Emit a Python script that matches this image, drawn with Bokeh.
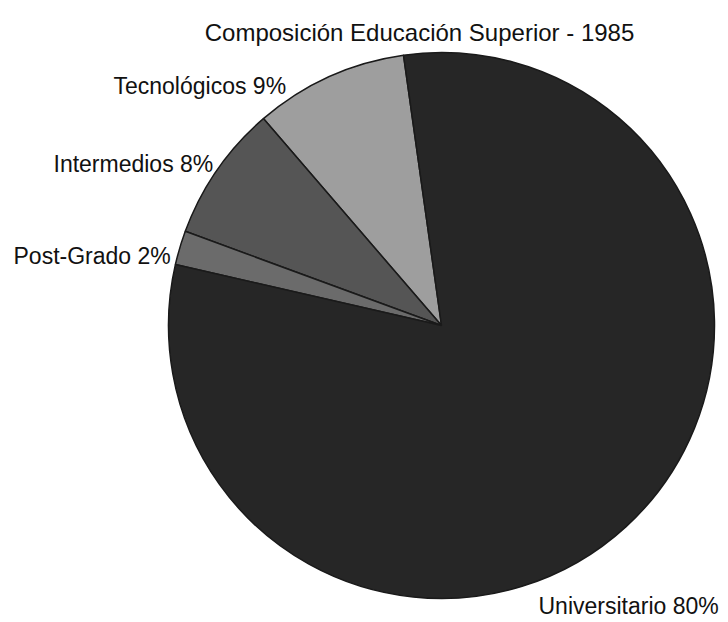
import math
from bokeh.plotting import figure
from bokeh.models import Range1d, Label, ColumnDataSource
from bokeh.embed import file_html
from bokeh.resources import INLINE

# ---- data ----
categories = ["Tecnológicos", "Intermedios", "Post-Grado", "Universitario"]
values = [9, 8, 2, 80]
colors = ["#9e9e9e", "#555555", "#6b6b6b", "#262626"]
title_text = "Composición Educación Superior - 1985"

# ---- layout ----
W, H = 728, 622
start_deg = 98.0          # first slice boundary (math angle, CCW)
cx, cy, rad = 441, 297, 273
label_pos = [(113, 537), (53, 459), (13, 367), (538, 17)]
FONT = "Liberation Sans"

total = float(sum(values))
starts, ends = [], []
a = math.radians(start_deg)
for v in values:
    starts.append(a)
    a += v / total * 2 * math.pi
    ends.append(a)

src = ColumnDataSource(dict(cat=categories, val=values, color=colors,
                            start=starts, end=ends))

p = figure(width=W, height=H, x_range=Range1d(0, W), y_range=Range1d(0, H),
           min_border=0, toolbar_location=None, output_backend="svg",
           background_fill_color="#ffffff", border_fill_color="#ffffff",
           outline_line_color=None)
p.axis.visible = False
p.grid.visible = False

p.wedge(x=cx, y=cy, radius=rad, start_angle="start", end_angle="end",
        fill_color="color", line_color="#1a1a1a", line_width=1.5, source=src)

p.add_layout(Label(x=419, y=590, text=title_text, text_font=FONT,
                   text_font_size="24px", text_color="#111111",
                   text_align="center", text_baseline="alphabetic"))

for (lx, ly), c, v in zip(label_pos, categories, values):
    p.add_layout(Label(x=lx, y=ly, text=f"{c} {v}%", text_font=FONT,
                       text_font_size="23px", text_color="#111111",
                       text_align="left", text_baseline="alphabetic"))

open("out.html", "w").write(file_html(p, INLINE))
